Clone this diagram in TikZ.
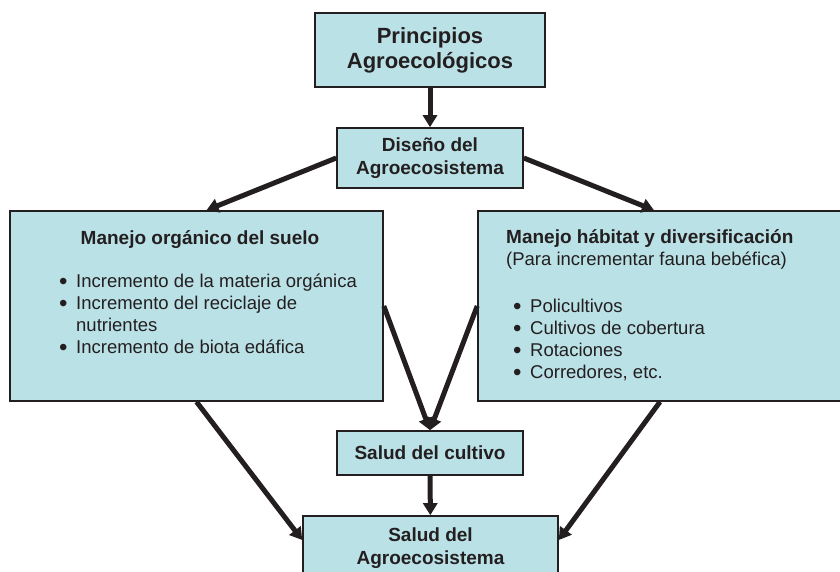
\documentclass[tikz,border=0pt]{standalone}
\usepackage{fontspec}
\usepackage{graphicx}
\setmainfont{Liberation Sans}
\usetikzlibrary{arrows.meta}
\definecolor{boxfill}{RGB}{186,225,230}
\definecolor{ink}{RGB}{35,31,32}
\newcommand{\itm}{\makebox[17pt][l]{\raisebox{-0.12em}{\scalebox{1.3}{\textbullet}}}}
\tikzset{
  box/.style={draw=ink, line width=1.6pt, fill=boxfill, text=ink, inner sep=0pt,
    font=\bfseries\fontsize{19}{23}\selectfont, align=center},
  head/.style={text=ink, inner sep=0pt, font=\bfseries\fontsize{19}{23}\selectfont},
  plain/.style={text=ink, inner sep=0pt, font=\fontsize{18.5}{22}\selectfont, align=left},
  flow/.style={draw=ink, line width=5pt, -{Triangle[length=12pt,width=14pt]}}
}
\begin{document}
\begin{tikzpicture}[x=1pt, y=-1pt]
\clip (0,0) rectangle (840,571);

% boxes
\node[box, minimum width=230, minimum height=74, font=\bfseries\fontsize{22}{25}\selectfont]
  (principios) at (430,50) {Principios\\Agroecológicos};
\node[box, minimum width=186, minimum height=60] (diseno) at (430,158) {Diseño del\\Agroecosistema};
\node[box, minimum width=373, minimum height=190] (suelo) at (196.5,306) {};
\node[box, minimum width=364, minimum height=190] (habitat) at (660,306) {};
\node[box, minimum width=186, minimum height=44] (cultivo) at (430,453) {Salud del cultivo};
\node[box, minimum width=255, minimum height=64] (agro) at (430.5,548) {Salud del\\Agroecosistema};

% left box text
\node[head, anchor=base] (suelotit) at (200,244) {Manejo orgánico del suelo};
\node[plain, anchor=north west] (suelolist) at (59,273.5)
  {\itm Incremento de la materia orgánica\\
   \itm Incremento del reciclaje de\\
   \hspace*{17pt}nutrientes\\
   \itm Incremento de biota edáfica};

% right box text
\node[head, anchor=base west] (habtit) at (506,243) {Manejo hábitat y diversificación};
\node[plain, anchor=base west] (habsub) at (506,265) {(Para incrementar fauna bebéfica)};
\node[plain, anchor=north west] (hablist) at (513,298.5)
  {\itm Policultivos\\
   \itm Cultivos de cobertura\\
   \itm Rotaciones\\
   \itm Corredores, etc.};

% connectors
\draw[flow] (principios) -- (diseno);
\draw[flow] (diseno.west) -- ([xshift=10pt]suelo.north);
\draw[flow] (diseno.east) -- ([xshift=-6pt]habitat.north);
\draw[flow] (suelo.east) -- (cultivo.north);
\draw[flow] (habitat.west) -- (cultivo.north);
\draw[flow] (cultivo) -- (agro);
\draw[flow] (suelo.south) -- ([yshift=8pt]agro.west);
\draw[flow] (habitat.south) -- ([yshift=8pt]agro.east);
\end{tikzpicture}
\end{document}
